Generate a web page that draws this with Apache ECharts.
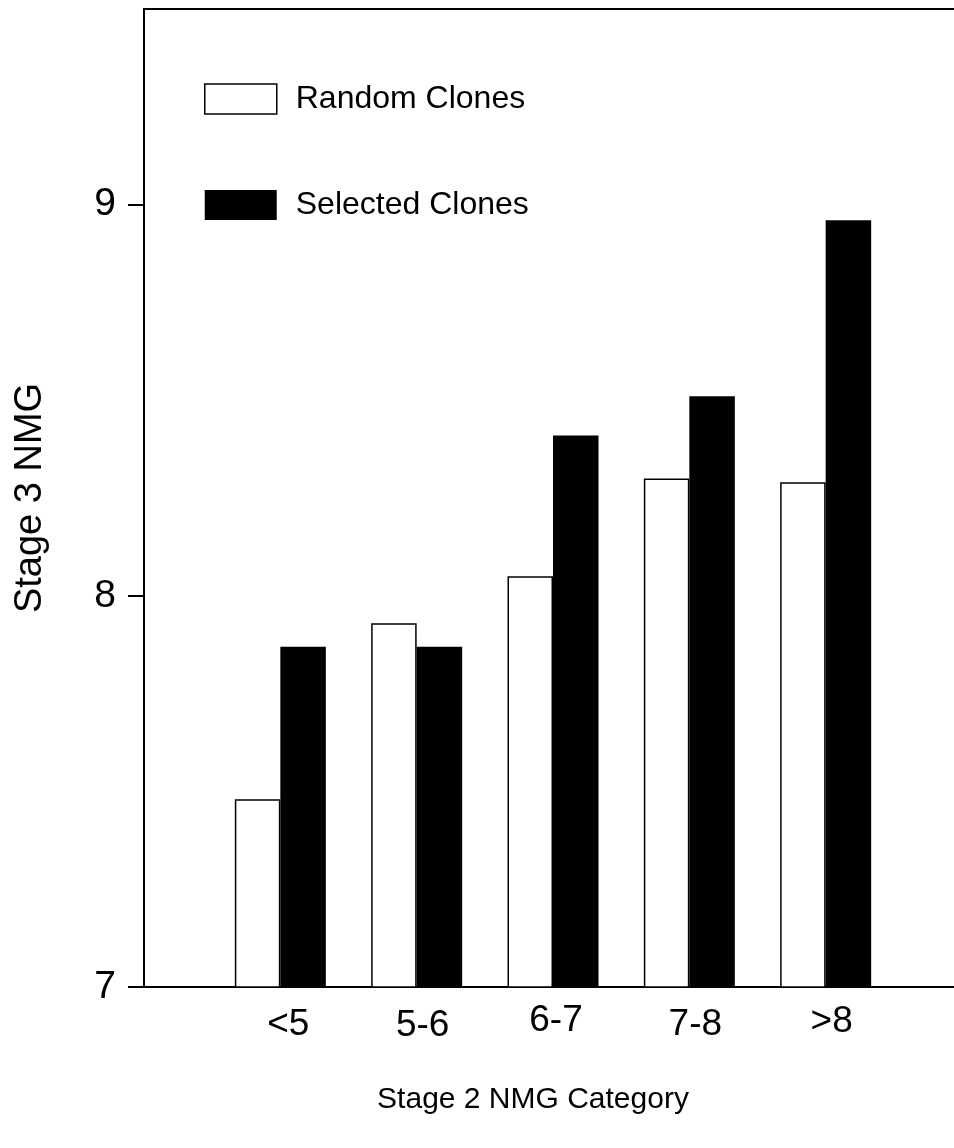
<!DOCTYPE html>
<html>
<head>
<meta charset="utf-8">
<script src="https://cdn.jsdelivr.net/npm/echarts@6/dist/echarts.min.js"></script>
<style>
html,body{margin:0;padding:0;background:#fff;}
#chart{width:954px;height:1148px;}
</style>
</head>
<body>
<div id="chart"></div>
<script>
// ---- data ----
const categories = ['<5', '5-6', '6-7', '7-8', '>8'];
const categoryPositions = [1, 2, 3, 4, 5];
const randomClones = [7.48, 7.93, 8.05, 8.30, 8.29];
const selectedClones = [7.87, 7.87, 8.41, 8.51, 8.96];
const yTickValues = [7, 8, 9];
const seriesNames = ['Random Clones', 'Selected Clones'];

// ---- style (label nudges, px) ----
const labelShiftX = [8, 6, 3, 6, 6];
const labelShiftY = [7, 9, 0, 8, 2];

const FONT = 'Liberation Sans, Arial, Helvetica, sans-serif';

const rich = {};
categories.forEach((c, i) => {
  rich['c' + i] = {
    fontSize: 37, fontFamily: FONT, color: '#000', lineHeight: 38,
    padding: [labelShiftY[i], 0, 0, 2 * labelShiftX[i]]
  };
});

const chart = echarts.init(document.getElementById('chart'), null, {renderer: 'canvas'});
chart.setOption({
  animation: false,
  backgroundColor: '#fff',
  title: {
    text: 'Stage 2 NMG Category',
    left: 528, top: 1080, textAlign: 'center',
    textStyle: {fontSize: 30, fontWeight: 'normal', fontFamily: FONT, color: '#000'}
  },
  legend: {
    orient: 'vertical', left: 199, top: 78,
    itemWidth: 72, itemHeight: 30, itemGap: 74,
    icon: 'rect',
    formatter: '{t|{name}}',
    textStyle: {
      fontSize: 32, fontFamily: FONT, color: '#000',
      rich: {t: {fontSize: 32, fontFamily: FONT, color: '#000', padding: [0, 0, 0, 14]}}
    },
    data: [
      {name: seriesNames[0], itemStyle: {color: '#fff', borderColor: '#000', borderWidth: 1.5}},
      {name: seriesNames[1], itemStyle: {color: '#000', borderColor: '#000', borderWidth: 0}}
    ]
  },
  grid: {
    left: 144, top: 9, right: -8, bottom: 161,
    show: true, borderColor: '#000', borderWidth: 2, backgroundColor: 'transparent',
    containLabel: false, outerBoundsMode: 'none'
  },
  xAxis: {
    type: 'value', min: 0, max: 6,
    axisLine: {show: true, lineStyle: {color: '#000', width: 1.5}},
    axisTick: {show: false},
    splitLine: {show: false},
    axisLabel: {
      show: true, margin: 15,
      customValues: categoryPositions,
      formatter: function (v) {
        const i = categoryPositions.indexOf(Math.round(v));
        return i < 0 ? '' : '{c' + i + '|' + categories[i] + '}';
      },
      rich: rich
    }
  },
  yAxis: {
    type: 'value', min: 7, max: 9.5,
    name: 'Stage 3 NMG', nameLocation: 'middle', nameGap: 94, nameMoveOverlap: false,
    nameTextStyle: {fontSize: 38, fontFamily: FONT, color: '#000'},
    axisLine: {show: true, lineStyle: {color: '#000', width: 2}},
    axisTick: {show: true, inside: false, length: 16, customValues: yTickValues,
      lineStyle: {color: '#000', width: 2}},
    splitLine: {show: false},
    axisLabel: {
      show: true, margin: 28, customValues: yTickValues,
      fontSize: 39, fontFamily: FONT, color: '#000'
    }
  },
  series: [
    {
      name: seriesNames[0], type: 'bar', barWidth: 45.5, barGap: '0%',
      itemStyle: {color: '#fff', borderColor: '#000', borderWidth: 1.5},
      data: categoryPositions.map((p, i) => [p, randomClones[i]])
    },
    {
      name: seriesNames[1], type: 'bar', barWidth: 45.5, barGap: '0%',
      itemStyle: {color: '#000', borderColor: '#000', borderWidth: 0},
      data: categoryPositions.map((p, i) => [p, selectedClones[i]])
    }
  ]
});
</script>
</body>
</html>
